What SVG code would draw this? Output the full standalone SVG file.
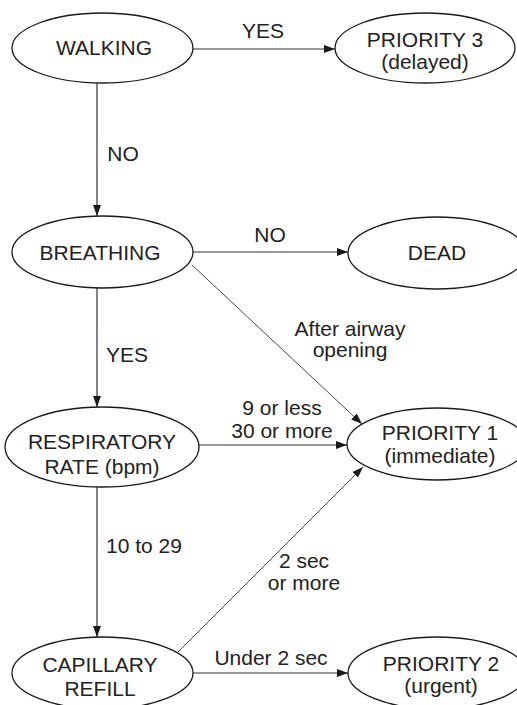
<svg xmlns="http://www.w3.org/2000/svg" width="517" height="705" viewBox="0 0 517 705">
<style>
.n ellipse{fill:#fff;stroke:#1a1a1a;stroke-width:1.3}
text{font-family:"Liberation Sans",Arial,sans-serif;font-size:21px;fill:#222;text-anchor:middle}
.c line{stroke:#333;stroke-width:1.2;fill:none}
.c line.d{stroke-width:0.9}
</style>
<defs>
<marker id="ah" markerUnits="userSpaceOnUse" markerWidth="12" markerHeight="10" viewBox="0 0 12 10" refX="11" refY="5" orient="auto">
<path d="M0,1 L11,5 L0,9 Z" fill="#1a1a1a"/>
</marker>
</defs>
<g class="c" id="connectors">
<line x1="193" y1="49" x2="335" y2="49" marker-end="url(#ah)"/>
<line x1="97" y1="83" x2="97" y2="216" marker-end="url(#ah)"/>
<line x1="193" y1="252" x2="348" y2="252" marker-end="url(#ah)"/>
<line class="d" x1="192" y1="265" x2="362" y2="424" marker-end="url(#ah)"/>
<line x1="97" y1="288" x2="97" y2="407" marker-end="url(#ah)"/>
<line x1="199" y1="445" x2="347" y2="445" marker-end="url(#ah)"/>
<line x1="97" y1="487" x2="97" y2="637" marker-end="url(#ah)"/>
<line class="d" x1="178" y1="652" x2="363" y2="467" marker-end="url(#ah)"/>
<line x1="193" y1="673" x2="348" y2="673" marker-end="url(#ah)"/>
<text x="263" y="38">YES</text>
<text x="123" y="161">NO</text>
<text x="270" y="242">NO</text>
<text x="350" y="336">After airway</text>
<text x="350" y="357">opening</text>
<text x="127" y="362">YES</text>
<text x="282" y="415">9 or less</text>
<text x="282" y="438">30 or more</text>
<text x="144" y="553">10 to 29</text>
<text x="304" y="568">2 sec</text>
<text x="304" y="590">or more</text>
<text x="271" y="665">Under 2 sec</text>
</g>
<g class="n" id="walking"><ellipse cx="102.5" cy="48" rx="90.5" ry="35"/><text x="104" y="55">WALKING</text></g>
<g class="n" id="priority3"><ellipse cx="425" cy="48" rx="90" ry="35"/><text x="425" y="47">PRIORITY 3</text><text x="425" y="69">(delayed)</text></g>
<g class="n" id="breathing"><ellipse cx="102.5" cy="252" rx="90.5" ry="36"/><text x="100" y="260">BREATHING</text></g>
<g class="n" id="dead"><ellipse cx="437" cy="253" rx="89" ry="36"/><text x="437" y="260">DEAD</text></g>
<g class="n" id="respiratory"><ellipse cx="102" cy="447" rx="97" ry="40"/><text x="102" y="449">RESPIRATORY</text><text x="102" y="474">RATE (bpm)</text></g>
<g class="n" id="priority1"><ellipse cx="437" cy="444" rx="90" ry="36"/><text x="440" y="440">PRIORITY 1</text><text x="440" y="463">(immediate)</text></g>
<g class="n" id="capillary"><ellipse cx="102.5" cy="673" rx="90.5" ry="36"/><text x="100" y="672">CAPILLARY</text><text x="100" y="696">REFILL</text></g>
<g class="n" id="priority2"><ellipse cx="437" cy="673" rx="89" ry="36"/><text x="441" y="671">PRIORITY 2</text><text x="441" y="693">(urgent)</text></g>
</svg>
